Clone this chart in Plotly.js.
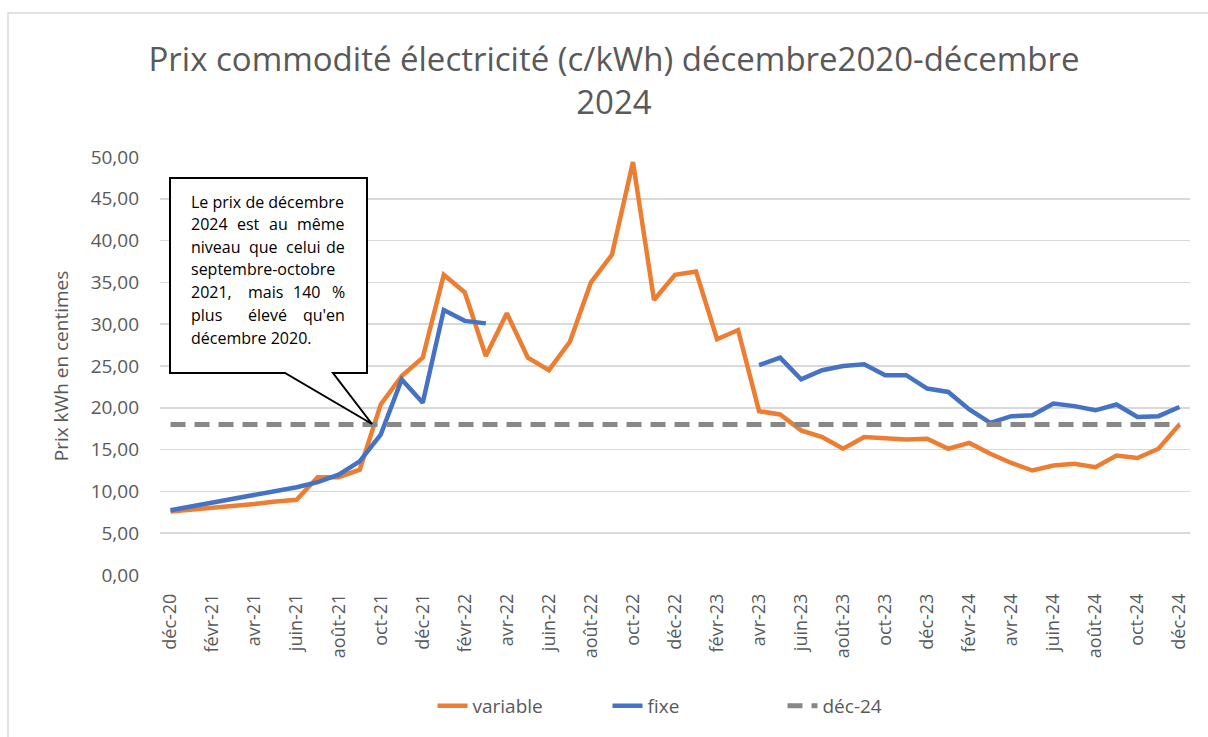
<!DOCTYPE html>
<html>
<head>
<meta charset="utf-8">
<script src="https://cdn.plot.ly/plotly-3.0.1.min.js"></script>
<style>
  html, body { margin: 0; padding: 0; background: #ffffff; }
  #chart { width: 1208px; height: 737px; }
</style>
</head>
<body>
<div id="chart"></div>
<script>
// Months from déc-20 to déc-24 (category axis)
const months = [
  "déc-20",
  "janv-21","févr-21","mars-21","avr-21","mai-21","juin-21","juil-21","août-21","sept-21","oct-21","nov-21","déc-21",
  "janv-22","févr-22","mars-22","avr-22","mai-22","juin-22","juil-22","août-22","sept-22","oct-22","nov-22","déc-22",
  "janv-23","févr-23","mars-23","avr-23","mai-23","juin-23","juil-23","août-23","sept-23","oct-23","nov-23","déc-23",
  "janv-24","févr-24","mars-24","avr-24","mai-24","juin-24","juil-24","août-24","sept-24","oct-24","nov-24","déc-24"
];

// Variable price (c/kWh)
const variable = [
  7.6,
  7.8, 8.1, 8.3, 8.5, 8.8, 9.0, 11.7, 11.7, 12.6, 20.4, 23.8, 26.0,
  35.9, 33.8, 26.2, 31.3, 26.0, 24.5, 27.9, 35.0, 38.3, 49.4, 32.9, 35.9,
  36.3, 28.2, 29.3, 19.6, 19.2, 17.3, 16.5, 15.1, 16.5, 16.4, 16.2, 16.3,
  15.1, 15.8, 14.5, 13.4, 12.5, 13.1, 13.3, 12.9, 14.3, 14.0, 15.1, 18.0
];

// Fixed price (c/kWh); null = no offer
const fixe = [
  7.75,
  8.2, 8.7, 9.1, 9.6, 10.0, 10.5, 11.1, 12.0, 13.6, 16.8, 23.4, 20.6,
  31.7, 30.4, 30.1, null, null, null, null, null, null, null, null, null,
  null, null, null, 25.1, 26.0, 23.4, 24.5, 25.0, 25.2, 23.9, 23.9, 22.3,
  21.9, 19.8, 18.2, 19.0, 19.1, 20.5, 20.2, 19.7, 20.4, 18.9, 19.0, 20.1
];

// Reference level: price of December 2024
const dec24Level = 18.0;
const dec24 = months.map(() => dec24Level);

// Tick labels shown (every two months)
const tickLabels = months.filter((m, i) => i % 2 === 0);

const yTicks = [0, 5, 10, 15, 20, 25, 30, 35, 40, 45, 50];

const txtColor = "#595959";
const font = "Open Sans, Noto Sans, sans-serif";

// Plot area in pixels (for paper-referenced decorations)
const PL = 160, PR = 1190, PT = 157, PB = 575;
const px = v => (v - PL) / (PR - PL);
const py = v => (PB - v) / (PB - PT);

const traces = [
  {
    x: months, y: variable, name: "variable", type: "scatter", mode: "lines",
    line: { color: "#ED7D31", width: 4.5 }
  },
  {
    x: months, y: fixe, name: "fixe", type: "scatter", mode: "lines",
    connectgaps: false,
    line: { color: "#4472C4", width: 4.5 }
  },
  {
    x: months, y: dec24, name: "déc-24", type: "scatter", mode: "lines",
    line: { color: "#888888", width: 5, dash: "15px,9px" }
  }
];

// Callout box (box with pointer)
const L = px(170), R = px(367), T = py(178), B = py(373);
const b1 = px(285), b2 = px(333), tipX = px(372), tipY = py(424);
const calloutPath = `M ${L},${T} L ${R},${T} L ${R},${B} L ${b2},${B} L ${tipX},${tipY} L ${b1},${B} L ${L},${B} Z`;

const annFont = { family: font, size: 16, color: "#000000" };
function word(text, xPix, yPix, anchor) {
  return {
    text: text, xref: "paper", yref: "paper",
    x: px(xPix), y: py(yPix), xanchor: anchor, yanchor: "middle",
    showarrow: false, font: annFont
  };
}
const annotations = [
  word("Le prix de décembre", 189, 202, "left"),
  word("2024", 189, 224, "left"), word("est", 248, 224, "center"), word("au", 278, 224, "center"), word("même", 347, 224, "right"),
  word("niveau", 189, 247, "left"), word("que", 263, 247, "center"), word("celui", 303, 247, "center"), word("de", 347, 247, "right"),
  word("septembre-octobre", 189, 269, "left"),
  word("2021,", 189, 292, "left"), word("mais", 265, 292, "center"), word("140", 306, 292, "center"), word("%", 347, 292, "right"),
  word("plus", 189, 315, "left"), word("élevé", 267, 315, "center"), word("qu'en", 347, 315, "right"),
  word("décembre 2020.", 189, 338, "left")
];

const layout = {
  width: 1208, height: 737,
  paper_bgcolor: "#ffffff", plot_bgcolor: "#ffffff",
  separators: ", ",
  margin: { l: PL, r: 1208 - PR, t: PT, b: 737 - PB, pad: 0 },
  font: { family: font, color: txtColor },
  title: {
    text: "Prix commodité électricité (c/kWh) décembre2020-décembre<br>2024",
    font: { family: font, size: 33, color: txtColor },
    x: 614 / 1208, xref: "container", xanchor: "center",
    y: 1 - 71 / 737, yref: "container", yanchor: "middle"
  },
  xaxis: {
    type: "category",
    categoryorder: "array", categoryarray: months,
    range: [-0.5, months.length - 0.5],
    tickmode: "array", tickvals: tickLabels, ticktext: tickLabels,
    tickangle: -90,
    tickfont: { family: font, size: 18, color: txtColor },
    ticklabelstandoff: 14,
    showgrid: false, zeroline: false, showline: false, ticks: ""
  },
  yaxis: {
    range: [0, 50],
    tickmode: "array", tickvals: yTicks,
    tickformat: ".2f",
    tickfont: { family: font, size: 19, color: txtColor },
    ticklabelstandoff: 20,
    showgrid: true, gridcolor: "#D9D9D9", gridwidth: 1.5,
    zeroline: false, showline: false, ticks: "",
    title: { text: "Prix kWh en centimes", font: { family: font, size: 19, color: txtColor }, standoff: 16 }
  },
  showlegend: true,
  legend: {
    orientation: "h",
    x: px(695), xanchor: "center",
    y: py(706), yanchor: "middle",
    font: { family: font, size: 19, color: txtColor },
    entrywidth: 130, entrywidthmode: "pixels",
    traceorder: "normal"
  },
  shapes: [
    {
      type: "rect", xref: "paper", yref: "paper",
      x0: px(8), x1: px(1215), y0: py(745), y1: py(13),
      line: { color: "#D9D9D9", width: 1.5 }, fillcolor: "rgba(0,0,0,0)", layer: "below"
    },
    {
      type: "path", xref: "paper", yref: "paper", path: calloutPath,
      line: { color: "#000000", width: 2 }, fillcolor: "#ffffff", layer: "above"
    }
  ],
  annotations: annotations
};

Plotly.newPlot("chart", traces, layout, { displayModeBar: false, staticPlot: true });
</script>
</body>
</html>
